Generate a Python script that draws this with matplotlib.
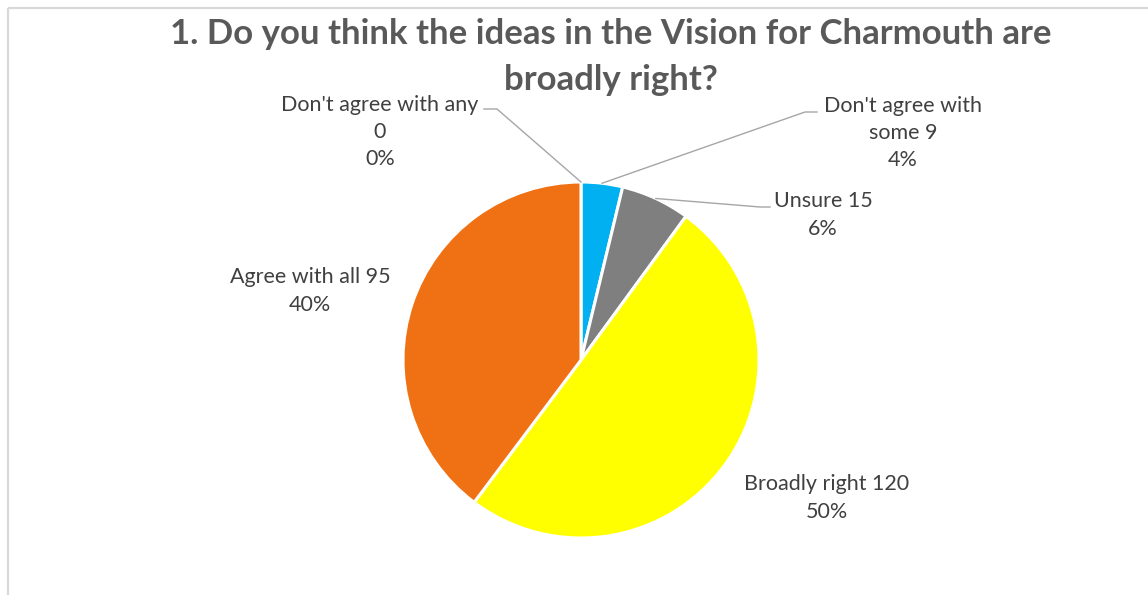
import matplotlib.pyplot as plt
import numpy as np

categories = ["Don't agree with any", "Don't agree with some", "Unsure",
              "Broadly right", "Agree with all"]
counts = [0, 9, 15, 120, 95]
colors = ['#4472C4', '#00B0F0', '#7F7F7F', '#FFFF00', '#F07113']

W, H = 1148, 595
plt.rcParams['font.family'] = ['Lato', 'DejaVu Sans']

fig = plt.figure(figsize=(W / 100, H / 100), dpi=100)
ax = fig.add_axes([0, 0, 1, 1])

cx, cy, r = 581, H - 360, 178
wedges, _ = ax.pie(counts, colors=colors, startangle=90, counterclock=False,
                   center=(cx, cy), radius=r,
                   wedgeprops=dict(edgecolor='white', linewidth=2.2))
ax.set_xlim(0, W)
ax.set_ylim(0, H)
ax.set_aspect('equal')
ax.axis('off')

# light chart border (top and left edges only show)
ax.plot([7.5, 7.5], [0, H - 7.5], color='#D9D9D9', lw=1.6, solid_capstyle='butt')
ax.plot([7.5, W], [H - 7.5, H - 7.5], color='#D9D9D9', lw=1.6, solid_capstyle='butt')

ax.text(611, H - 57, "1. Do you think the ideas in the Vision for Charmouth are\nbroadly right?",
        ha='center', va='center', fontsize=25, fontweight='bold', color='#595959',
        linespacing=1.5)

total = sum(counts)
pct = [round(100 * c / total) for c in counts]

# label placement: text centre (x, y from top) and leader elbow / end (or None)
label_pos = [(380, 132), (903, 133), (823, 215), (827, 498), (310, 291)]
leaders = [((497, 109), (484, 109)), ((805, 112), (817, 112)),
           ((760, 207), (770, 207)), None, None]

texts = [f"{categories[0]}\n{counts[0]}\n{pct[0]}%",
         f"Don't agree with\nsome {counts[1]}\n{pct[1]}%",
         f"{categories[2]} {counts[2]}\n{pct[2]}%",
         f"{categories[3]} {counts[3]}\n{pct[3]}%",
         f"{categories[4]} {counts[4]}\n{pct[4]}%"]

for w, txt, (tx, ty), ld in zip(wedges, texts, label_pos, leaders):
    ax.text(tx, H - ty, txt, ha='center', va='center', fontsize=15.5,
            color='#404040', linespacing=1.45, multialignment='center')
    if ld is not None:
        mid = np.deg2rad((w.theta1 + w.theta2) / 2)
        px, py = cx + r * np.cos(mid), cy + r * np.sin(mid)
        (ex, ey), (fx, fy) = ld
        ax.plot([px, ex, fx], [py, H - ey, H - fy], color='#A6A6A6', lw=1.0)

fig.savefig('out.png', dpi=100, facecolor='white')
